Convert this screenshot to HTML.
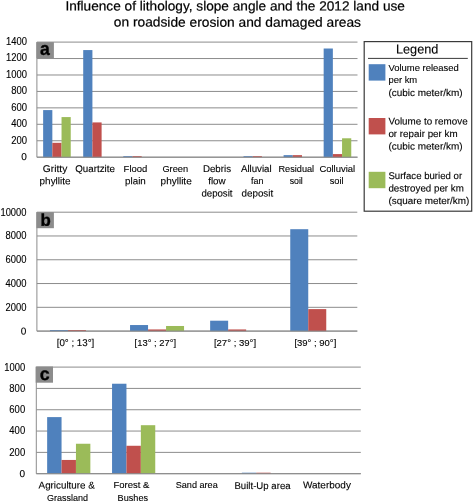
<!DOCTYPE html>
<html><head><meta charset="utf-8"><title>Figure</title>
<style>
html,body{margin:0;padding:0;background:#fff;}
body{width:473px;height:502px;overflow:hidden;}
svg{display:block;font-family:"Liberation Sans",sans-serif;}
</style></head><body>
<svg width="473" height="502" viewBox="0 0 473 502">
<rect x="0" y="0" width="473" height="502" fill="#fff"/>
<line x1="36.90" y1="157.20" x2="357.50" y2="157.20" stroke="#8c8c8c" stroke-width="1"/>
<line x1="36.90" y1="140.76" x2="357.50" y2="140.76" stroke="#8c8c8c" stroke-width="1"/>
<line x1="36.90" y1="124.31" x2="357.50" y2="124.31" stroke="#8c8c8c" stroke-width="1"/>
<line x1="36.90" y1="107.87" x2="357.50" y2="107.87" stroke="#8c8c8c" stroke-width="1"/>
<line x1="36.90" y1="91.43" x2="357.50" y2="91.43" stroke="#8c8c8c" stroke-width="1"/>
<line x1="36.90" y1="74.99" x2="357.50" y2="74.99" stroke="#8c8c8c" stroke-width="1"/>
<line x1="36.90" y1="58.54" x2="357.50" y2="58.54" stroke="#8c8c8c" stroke-width="1"/>
<line x1="36.90" y1="42.10" x2="357.50" y2="42.10" stroke="#8c8c8c" stroke-width="1"/>
<line x1="36.90" y1="42.10" x2="36.90" y2="157.20" stroke="#8c8c8c" stroke-width="1"/>
<rect x="43.14" y="110.09" width="9.20" height="47.11" fill="#4f81bd" />
<rect x="52.34" y="142.81" width="9.20" height="14.39" fill="#c0504d" />
<rect x="61.54" y="117.08" width="9.20" height="40.12" fill="#9bbb59" />
<rect x="83.21" y="50.07" width="9.20" height="107.13" fill="#4f81bd" />
<rect x="92.41" y="122.42" width="9.20" height="34.78" fill="#c0504d" />
<rect x="123.29" y="156.20" width="9.20" height="1.00" fill="#4f81bd" />
<rect x="132.49" y="156.20" width="9.20" height="1.00" fill="#c0504d" />
<rect x="243.51" y="156.20" width="9.20" height="1.00" fill="#4f81bd" />
<rect x="252.71" y="156.20" width="9.20" height="1.00" fill="#c0504d" />
<rect x="283.59" y="155.14" width="9.20" height="2.06" fill="#4f81bd" />
<rect x="292.79" y="155.14" width="9.20" height="2.06" fill="#c0504d" />
<rect x="323.66" y="48.51" width="9.20" height="108.69" fill="#4f81bd" />
<rect x="332.86" y="154.08" width="9.20" height="3.12" fill="#c0504d" />
<rect x="342.06" y="138.29" width="9.20" height="18.91" fill="#9bbb59" />
<line x1="36.90" y1="157.20" x2="357.50" y2="157.20" stroke="#8c8c8c" stroke-width="1"/>
<rect x="36.40" y="42.10" width="17.50" height="16.10" fill="#8c8c8c" />
<line x1="36.90" y1="331.10" x2="357.30" y2="331.10" stroke="#8c8c8c" stroke-width="1"/>
<line x1="36.90" y1="307.32" x2="357.30" y2="307.32" stroke="#8c8c8c" stroke-width="1"/>
<line x1="36.90" y1="283.54" x2="357.30" y2="283.54" stroke="#8c8c8c" stroke-width="1"/>
<line x1="36.90" y1="259.76" x2="357.30" y2="259.76" stroke="#8c8c8c" stroke-width="1"/>
<line x1="36.90" y1="235.98" x2="357.30" y2="235.98" stroke="#8c8c8c" stroke-width="1"/>
<line x1="36.90" y1="212.20" x2="357.30" y2="212.20" stroke="#8c8c8c" stroke-width="1"/>
<line x1="36.90" y1="212.20" x2="36.90" y2="331.10" stroke="#8c8c8c" stroke-width="1"/>
<rect x="49.95" y="330.10" width="18.00" height="1.00" fill="#4f81bd" />
<rect x="67.95" y="330.10" width="18.00" height="1.00" fill="#c0504d" />
<rect x="130.05" y="325.04" width="18.00" height="6.06" fill="#4f81bd" />
<rect x="148.05" y="329.44" width="18.00" height="1.66" fill="#c0504d" />
<rect x="166.05" y="325.99" width="18.00" height="5.11" fill="#9bbb59" />
<rect x="210.15" y="320.70" width="18.00" height="10.40" fill="#4f81bd" />
<rect x="228.15" y="329.44" width="18.00" height="1.66" fill="#c0504d" />
<rect x="290.25" y="229.20" width="18.00" height="101.90" fill="#4f81bd" />
<rect x="308.25" y="309.10" width="18.00" height="22.00" fill="#c0504d" />
<line x1="36.90" y1="331.10" x2="357.30" y2="331.10" stroke="#8c8c8c" stroke-width="1"/>
<rect x="36.40" y="212.10" width="17.50" height="16.10" fill="#8c8c8c" />
<line x1="36.30" y1="473.70" x2="360.80" y2="473.70" stroke="#8c8c8c" stroke-width="1"/>
<line x1="36.30" y1="452.38" x2="360.80" y2="452.38" stroke="#8c8c8c" stroke-width="1"/>
<line x1="36.30" y1="431.06" x2="360.80" y2="431.06" stroke="#8c8c8c" stroke-width="1"/>
<line x1="36.30" y1="409.74" x2="360.80" y2="409.74" stroke="#8c8c8c" stroke-width="1"/>
<line x1="36.30" y1="388.42" x2="360.80" y2="388.42" stroke="#8c8c8c" stroke-width="1"/>
<line x1="36.30" y1="367.10" x2="360.80" y2="367.10" stroke="#8c8c8c" stroke-width="1"/>
<line x1="36.30" y1="367.10" x2="36.30" y2="473.70" stroke="#8c8c8c" stroke-width="1"/>
<rect x="47.15" y="417.10" width="14.40" height="56.60" fill="#4f81bd" />
<rect x="61.55" y="459.95" width="14.40" height="13.75" fill="#c0504d" />
<rect x="75.95" y="443.75" width="14.40" height="29.95" fill="#9bbb59" />
<rect x="112.05" y="383.73" width="14.40" height="89.97" fill="#4f81bd" />
<rect x="126.45" y="445.77" width="14.40" height="27.93" fill="#c0504d" />
<rect x="140.85" y="425.20" width="14.40" height="48.50" fill="#9bbb59" />
<rect x="241.85" y="472.70" width="14.40" height="1.00" fill="#4f81bd" />
<rect x="256.25" y="472.70" width="14.40" height="1.00" fill="#c0504d" />
<line x1="36.30" y1="473.70" x2="360.80" y2="473.70" stroke="#8c8c8c" stroke-width="1"/>
<rect x="35.70" y="366.50" width="17.30" height="16.20" fill="#8c8c8c" />
<rect x="364.2" y="41.6" width="107.5" height="169.6" fill="#fff" stroke="#3a3a3a" stroke-width="1.2"/>
<line x1="368.00" y1="58.40" x2="467.80" y2="58.40" stroke="#3a3a3a" stroke-width="1"/>
<rect x="368.70" y="64.20" width="16.70" height="16.40" fill="#4f81bd" />
<rect x="368.70" y="118.00" width="16.70" height="16.40" fill="#c0504d" />
<rect x="368.70" y="171.80" width="16.70" height="16.40" fill="#9bbb59" />
<g style="filter:grayscale(1)">
<text transform="translate(65.40 10.45) matrix(1 0.0005 0 1 0 0)" font-size="13.3" fill="#000" textLength="339.50" lengthAdjust="spacingAndGlyphs" stroke="#000" stroke-width="0.22">Influence of lithology, slope angle and the 2012 land use</text>
<text transform="translate(113.80 26.60) matrix(1 0.0005 0 1 0 0)" font-size="13.3" fill="#000" textLength="247.20" lengthAdjust="spacingAndGlyphs" stroke="#000" stroke-width="0.22">on roadside erosion and damaged areas</text>
<text transform="translate(21.35 160.10) matrix(1 0.0005 0 1 0 0)" font-size="10.0" fill="#000" textLength="5.60" lengthAdjust="spacingAndGlyphs" stroke="#000" stroke-width="0.12">0</text>
<text transform="translate(11.15 143.66) matrix(1 0.0005 0 1 0 0)" font-size="10.0" fill="#000" textLength="15.80" lengthAdjust="spacingAndGlyphs" stroke="#000" stroke-width="0.12">200</text>
<text transform="translate(11.15 127.21) matrix(1 0.0005 0 1 0 0)" font-size="10.0" fill="#000" textLength="15.80" lengthAdjust="spacingAndGlyphs" stroke="#000" stroke-width="0.12">400</text>
<text transform="translate(11.15 110.77) matrix(1 0.0005 0 1 0 0)" font-size="10.0" fill="#000" textLength="15.80" lengthAdjust="spacingAndGlyphs" stroke="#000" stroke-width="0.12">600</text>
<text transform="translate(11.15 94.33) matrix(1 0.0005 0 1 0 0)" font-size="10.0" fill="#000" textLength="15.80" lengthAdjust="spacingAndGlyphs" stroke="#000" stroke-width="0.12">800</text>
<text transform="translate(6.05 77.89) matrix(1 0.0005 0 1 0 0)" font-size="10.0" fill="#000" textLength="20.90" lengthAdjust="spacingAndGlyphs" stroke="#000" stroke-width="0.12">1000</text>
<text transform="translate(6.05 61.44) matrix(1 0.0005 0 1 0 0)" font-size="10.0" fill="#000" textLength="20.90" lengthAdjust="spacingAndGlyphs" stroke="#000" stroke-width="0.12">1200</text>
<text transform="translate(6.05 45.00) matrix(1 0.0005 0 1 0 0)" font-size="10.0" fill="#000" textLength="20.90" lengthAdjust="spacingAndGlyphs" stroke="#000" stroke-width="0.12">1400</text>
<text transform="translate(39.90 54.80) matrix(1 0.0005 0 1 0 0)" font-size="18.5" font-weight="bold" fill="#000" stroke="#000" stroke-width="0.35" textLength="9.80" lengthAdjust="spacingAndGlyphs">a</text>
<text transform="translate(42.80 172.00) matrix(1 0.0005 0 1 0 0)" font-size="9.8" fill="#000" textLength="24.50" lengthAdjust="spacingAndGlyphs" stroke="#000" stroke-width="0.12">Gritty</text>
<text transform="translate(39.60 184.30) matrix(1 0.0005 0 1 0 0)" font-size="9.8" fill="#000" textLength="30.90" lengthAdjust="spacingAndGlyphs" stroke="#000" stroke-width="0.12">phyllite</text>
<text transform="translate(75.20 172.00) matrix(1 0.0005 0 1 0 0)" font-size="9.8" fill="#000" textLength="39.70" lengthAdjust="spacingAndGlyphs" stroke="#000" stroke-width="0.12">Quartzite</text>
<text transform="translate(123.60 172.00) matrix(1 0.0005 0 1 0 0)" font-size="9.8" fill="#000" textLength="23.70" lengthAdjust="spacingAndGlyphs" stroke="#000" stroke-width="0.12">Flood</text>
<text transform="translate(125.10 184.30) matrix(1 0.0005 0 1 0 0)" font-size="9.8" fill="#000" textLength="20.70" lengthAdjust="spacingAndGlyphs" stroke="#000" stroke-width="0.12">plain</text>
<text transform="translate(162.40 172.00) matrix(1 0.0005 0 1 0 0)" font-size="9.8" fill="#000" textLength="25.70" lengthAdjust="spacingAndGlyphs" stroke="#000" stroke-width="0.12">Green</text>
<text transform="translate(160.60 184.30) matrix(1 0.0005 0 1 0 0)" font-size="9.8" fill="#000" textLength="31.10" lengthAdjust="spacingAndGlyphs" stroke="#000" stroke-width="0.12">phyllite</text>
<text transform="translate(202.90 172.00) matrix(1 0.0005 0 1 0 0)" font-size="9.8" fill="#000" textLength="28.10" lengthAdjust="spacingAndGlyphs" stroke="#000" stroke-width="0.12">Debris</text>
<text transform="translate(208.20 184.30) matrix(1 0.0005 0 1 0 0)" font-size="9.8" fill="#000" textLength="17.50" lengthAdjust="spacingAndGlyphs" stroke="#000" stroke-width="0.12">flow</text>
<text transform="translate(201.40 196.50) matrix(1 0.0005 0 1 0 0)" font-size="9.8" fill="#000" textLength="31.10" lengthAdjust="spacingAndGlyphs" stroke="#000" stroke-width="0.12">deposit</text>
<text transform="translate(240.90 172.00) matrix(1 0.0005 0 1 0 0)" font-size="9.8" fill="#000" textLength="30.80" lengthAdjust="spacingAndGlyphs" stroke="#000" stroke-width="0.12">Alluvial</text>
<text transform="translate(251.00 184.30) matrix(1 0.0005 0 1 0 0)" font-size="9.8" fill="#000" textLength="12.40" lengthAdjust="spacingAndGlyphs" stroke="#000" stroke-width="0.12">fan</text>
<text transform="translate(241.50 196.50) matrix(1 0.0005 0 1 0 0)" font-size="9.8" fill="#000" textLength="31.70" lengthAdjust="spacingAndGlyphs" stroke="#000" stroke-width="0.12">deposit</text>
<text transform="translate(278.50 172.00) matrix(1 0.0005 0 1 0 0)" font-size="9.8" fill="#000" textLength="35.60" lengthAdjust="spacingAndGlyphs" stroke="#000" stroke-width="0.12">Residual</text>
<text transform="translate(289.70 184.30) matrix(1 0.0005 0 1 0 0)" font-size="9.8" fill="#000" textLength="13.10" lengthAdjust="spacingAndGlyphs" stroke="#000" stroke-width="0.12">soil</text>
<text transform="translate(319.40 172.00) matrix(1 0.0005 0 1 0 0)" font-size="9.8" fill="#000" textLength="35.80" lengthAdjust="spacingAndGlyphs" stroke="#000" stroke-width="0.12">Colluvial</text>
<text transform="translate(329.70 184.30) matrix(1 0.0005 0 1 0 0)" font-size="9.8" fill="#000" textLength="13.90" lengthAdjust="spacingAndGlyphs" stroke="#000" stroke-width="0.12">soil</text>
<text transform="translate(20.85 334.50) matrix(1 0.0005 0 1 0 0)" font-size="10.0" fill="#000" textLength="5.60" lengthAdjust="spacingAndGlyphs" stroke="#000" stroke-width="0.12">0</text>
<text transform="translate(5.55 310.72) matrix(1 0.0005 0 1 0 0)" font-size="10.0" fill="#000" textLength="20.90" lengthAdjust="spacingAndGlyphs" stroke="#000" stroke-width="0.12">2000</text>
<text transform="translate(5.55 286.94) matrix(1 0.0005 0 1 0 0)" font-size="10.0" fill="#000" textLength="20.90" lengthAdjust="spacingAndGlyphs" stroke="#000" stroke-width="0.12">4000</text>
<text transform="translate(5.55 263.16) matrix(1 0.0005 0 1 0 0)" font-size="10.0" fill="#000" textLength="20.90" lengthAdjust="spacingAndGlyphs" stroke="#000" stroke-width="0.12">6000</text>
<text transform="translate(5.55 239.38) matrix(1 0.0005 0 1 0 0)" font-size="10.0" fill="#000" textLength="20.90" lengthAdjust="spacingAndGlyphs" stroke="#000" stroke-width="0.12">8000</text>
<text transform="translate(0.45 215.60) matrix(1 0.0005 0 1 0 0)" font-size="10.0" fill="#000" textLength="26.00" lengthAdjust="spacingAndGlyphs" stroke="#000" stroke-width="0.12">10000</text>
<text transform="translate(40.50 225.70) matrix(1 0.0005 0 1 0 0)" font-size="16.9" font-weight="bold" fill="#000" stroke="#000" stroke-width="0.35" textLength="10.30" lengthAdjust="spacingAndGlyphs">b</text>
<text transform="translate(56.70 346.10) matrix(1 0.0005 0 1 0 0)" font-size="9.8" fill="#000" textLength="37.60" lengthAdjust="spacingAndGlyphs" stroke="#000" stroke-width="0.12">[0° ; 13°]</text>
<text transform="translate(134.60 346.10) matrix(1 0.0005 0 1 0 0)" font-size="9.8" fill="#000" textLength="41.50" lengthAdjust="spacingAndGlyphs" stroke="#000" stroke-width="0.12">[13° ; 27°]</text>
<text transform="translate(213.90 346.10) matrix(1 0.0005 0 1 0 0)" font-size="9.8" fill="#000" textLength="42.20" lengthAdjust="spacingAndGlyphs" stroke="#000" stroke-width="0.12">[27° ; 39°]</text>
<text transform="translate(294.40 346.10) matrix(1 0.0005 0 1 0 0)" font-size="9.8" fill="#000" textLength="41.90" lengthAdjust="spacingAndGlyphs" stroke="#000" stroke-width="0.12">[39° ; 90°]</text>
<text transform="translate(19.55 477.10) matrix(1 0.0005 0 1 0 0)" font-size="10.0" fill="#000" textLength="5.60" lengthAdjust="spacingAndGlyphs" stroke="#000" stroke-width="0.12">0</text>
<text transform="translate(9.35 455.78) matrix(1 0.0005 0 1 0 0)" font-size="10.0" fill="#000" textLength="15.80" lengthAdjust="spacingAndGlyphs" stroke="#000" stroke-width="0.12">200</text>
<text transform="translate(9.35 434.46) matrix(1 0.0005 0 1 0 0)" font-size="10.0" fill="#000" textLength="15.80" lengthAdjust="spacingAndGlyphs" stroke="#000" stroke-width="0.12">400</text>
<text transform="translate(9.35 413.14) matrix(1 0.0005 0 1 0 0)" font-size="10.0" fill="#000" textLength="15.80" lengthAdjust="spacingAndGlyphs" stroke="#000" stroke-width="0.12">600</text>
<text transform="translate(9.35 391.82) matrix(1 0.0005 0 1 0 0)" font-size="10.0" fill="#000" textLength="15.80" lengthAdjust="spacingAndGlyphs" stroke="#000" stroke-width="0.12">800</text>
<text transform="translate(4.25 370.50) matrix(1 0.0005 0 1 0 0)" font-size="10.0" fill="#000" textLength="20.90" lengthAdjust="spacingAndGlyphs" stroke="#000" stroke-width="0.12">1000</text>
<text transform="translate(39.80 380.00) matrix(1 0.0005 0 1 0 0)" font-size="18.0" font-weight="bold" fill="#000" stroke="#000" stroke-width="0.35" textLength="9.90" lengthAdjust="spacingAndGlyphs">c</text>
<text transform="translate(38.60 488.40) matrix(1 0.0005 0 1 0 0)" font-size="9.8" fill="#000" textLength="56.20" lengthAdjust="spacingAndGlyphs" stroke="#000" stroke-width="0.12">Agriculture &amp;</text>
<text transform="translate(46.90 500.60) matrix(1 0.0005 0 1 0 0)" font-size="9.8" fill="#000" textLength="41.10" lengthAdjust="spacingAndGlyphs" stroke="#000" stroke-width="0.12">Grassland</text>
<text transform="translate(113.50 488.40) matrix(1 0.0005 0 1 0 0)" font-size="9.8" fill="#000" textLength="35.80" lengthAdjust="spacingAndGlyphs" stroke="#000" stroke-width="0.12">Forest &amp;</text>
<text transform="translate(117.60 500.60) matrix(1 0.0005 0 1 0 0)" font-size="9.8" fill="#000" textLength="30.50" lengthAdjust="spacingAndGlyphs" stroke="#000" stroke-width="0.12">Bushes</text>
<text transform="translate(175.70 488.30) matrix(1 0.0005 0 1 0 0)" font-size="9.8" fill="#000" textLength="42.00" lengthAdjust="spacingAndGlyphs" stroke="#000" stroke-width="0.12">Sand area</text>
<text transform="translate(234.40 489.00) matrix(1 0.0005 0 1 0 0)" font-size="9.8" fill="#000" textLength="56.20" lengthAdjust="spacingAndGlyphs" stroke="#000" stroke-width="0.12">Built-Up area</text>
<text transform="translate(303.00 488.20) matrix(1 0.0005 0 1 0 0)" font-size="9.8" fill="#000" textLength="47.90" lengthAdjust="spacingAndGlyphs" stroke="#000" stroke-width="0.12">Waterbody</text>
<text transform="translate(395.90 53.60) matrix(1 0.0005 0 1 0 0)" font-size="13.0" fill="#000" textLength="42.50" lengthAdjust="spacingAndGlyphs" stroke="#000" stroke-width="0.12">Legend</text>
<text transform="translate(388.40 70.90) matrix(1 0.0005 0 1 0 0)" font-size="9.8" fill="#000" textLength="70.40" lengthAdjust="spacingAndGlyphs" stroke="#000" stroke-width="0.12">Volume released</text>
<text transform="translate(388.40 83.40) matrix(1 0.0005 0 1 0 0)" font-size="9.8" fill="#000" textLength="28.80" lengthAdjust="spacingAndGlyphs" stroke="#000" stroke-width="0.12">per km</text>
<text transform="translate(388.40 95.90) matrix(1 0.0005 0 1 0 0)" font-size="9.8" fill="#000" textLength="74.20" lengthAdjust="spacingAndGlyphs" stroke="#000" stroke-width="0.12">(cubic meter/km)</text>
<text transform="translate(388.40 124.50) matrix(1 0.0005 0 1 0 0)" font-size="9.8" fill="#000" textLength="79.20" lengthAdjust="spacingAndGlyphs" stroke="#000" stroke-width="0.12">Volume to remove</text>
<text transform="translate(388.40 137.00) matrix(1 0.0005 0 1 0 0)" font-size="9.8" fill="#000" textLength="69.20" lengthAdjust="spacingAndGlyphs" stroke="#000" stroke-width="0.12">or repair per km</text>
<text transform="translate(388.40 149.50) matrix(1 0.0005 0 1 0 0)" font-size="9.8" fill="#000" textLength="74.20" lengthAdjust="spacingAndGlyphs" stroke="#000" stroke-width="0.12">(cubic meter/km)</text>
<text transform="translate(388.40 178.90) matrix(1 0.0005 0 1 0 0)" font-size="9.8" fill="#000" textLength="73.70" lengthAdjust="spacingAndGlyphs" stroke="#000" stroke-width="0.12">Surface buried or</text>
<text transform="translate(388.40 191.40) matrix(1 0.0005 0 1 0 0)" font-size="9.8" fill="#000" textLength="75.40" lengthAdjust="spacingAndGlyphs" stroke="#000" stroke-width="0.12">destroyed per km</text>
<text transform="translate(388.40 203.90) matrix(1 0.0005 0 1 0 0)" font-size="9.8" fill="#000" textLength="80.90" lengthAdjust="spacingAndGlyphs" stroke="#000" stroke-width="0.12">(square meter/km)</text>
</g>
</svg>
</body></html>
